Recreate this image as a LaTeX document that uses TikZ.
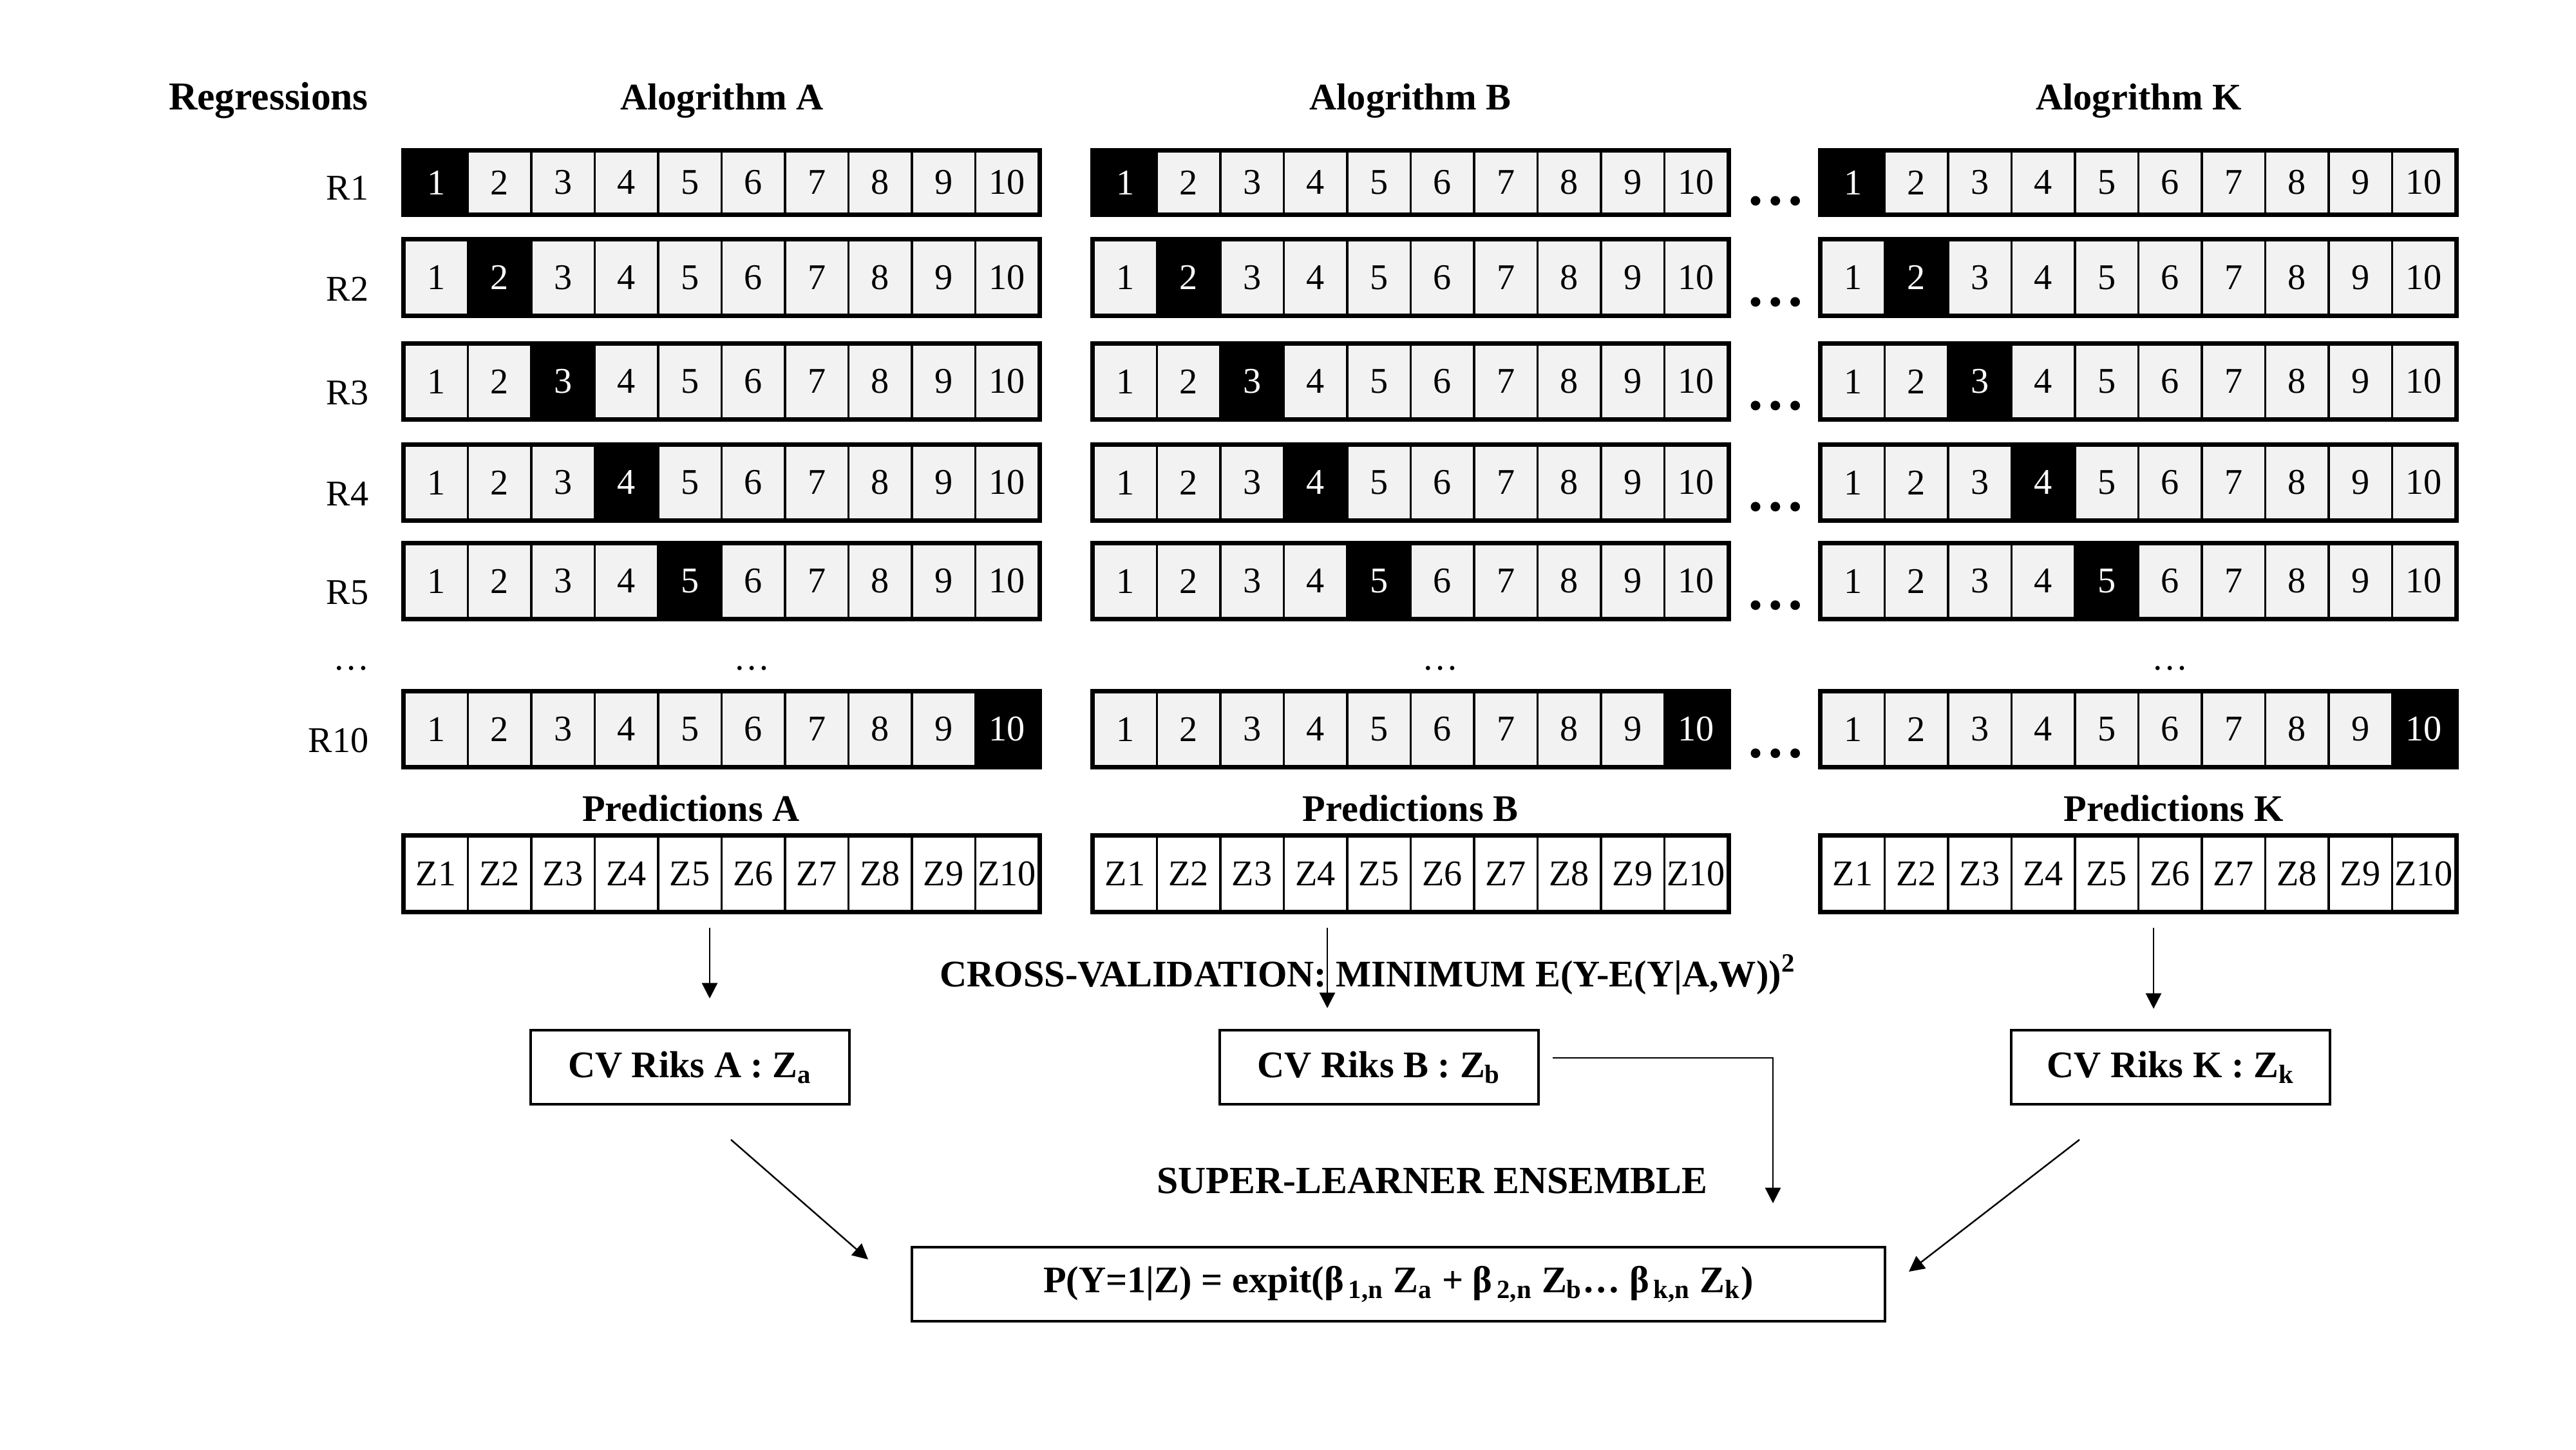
\documentclass[tikz,border=0pt]{standalone}
\usepackage{fontspec}
\setmainfont{Liberation Serif}
\usetikzlibrary{arrows.meta}

\newcommand{\fs}{\fontsize{16}{19}\selectfont}
\newcommand{\bfs}{\fontsize{16.6}{19}\selectfont\bfseries}

\tikzset{
  cell/.style={draw, line width=1.1pt, inner sep=0pt, minimum width=0.985cm, anchor=north west},
  frame/.style={draw, line width=1.5pt},
  title/.style={font=\bfs, anchor=base},
  riskbox/.style={draw, line width=1.3pt, font=\bfs, inner sep=0pt, minimum width=4.95cm, minimum height=1.15cm},
  arr/.style={-{Triangle[length=0.24cm,width=0.24cm]}, line width=0.7pt},
  bigdots/.style={font=\fontsize{26}{30}\selectfont\bfseries, anchor=base, inner sep=0pt},
}

\begin{document}
\begin{tikzpicture}[every node/.style={font=\fs}]
  \useasboundingbox (0,0) rectangle (40,-22.51);

  % headings
  \node[title, font=\fontsize{17.5}{20}\selectfont\bfseries] (regr) at (4.17,-1.70) {Regressions};
  \node[title] (algA) at (11.21,-1.70) {Alogrithm A};
  \node[title] (algB) at (21.90,-1.70) {Alogrithm B};
  \node[title] (algK) at (33.21,-1.70) {Alogrithm K};

  % folds of each algorithm
  \foreach \alg/\xo in {A/6.26,B/16.96,K/28.26}{
    \foreach \rw/\yt/\hh/\hot in {R1/2.33/0.97/1,R2/3.71/1.16/2,R3/5.33/1.15/3,R4/6.90/1.15/4,R5/8.43/1.15/5,R10/10.73/1.15/10}{
      \foreach \i in {1,...,10}{
        \ifnum\i=\hot \def\fc{black}\def\tc{white}\else\def\fc{black!5}\def\tc{black}\fi
        \node[cell, fill=\fc, text=\tc, minimum height=\hh cm] (\alg\rw-\i) at ({\xo+(\i-1)*0.985},-\yt) {\i};
      }
      \draw[frame] (\alg\rw-1.north west) rectangle (\alg\rw-10.south east);
    }
    % predictions
    \foreach \i in {1,...,10}
      \node[cell, fill=white, minimum height=1.16cm] (Z\alg-\i) at ({\xo+(\i-1)*0.985},-12.97) {Z\i};
    \draw[frame] (Z\alg-1.north west) rectangle (Z\alg-10.south east);
  }

  % row labels and dots
  \foreach \rw/\yb in {R1/3.30,R2/4.87,R3/6.48,R4/8.05,R5/9.58,R10/11.88}{
    \node[anchor=base east, inner sep=0pt] (lab\rw) at (5.73,{-\yb+0.20}) {\rw};
    \node[bigdots] (dots\rw) at (27.57,{-\yb+0.12}) {…};
  }
  \node[anchor=base] (labdots) at (5.46,-10.40) {…};
  \node[anchor=base] (middotsA) at (11.68,-10.40) {…};
  \node[anchor=base] (middotsB) at (22.37,-10.40) {…};
  \node[anchor=base] (middotsK) at (33.70,-10.40) {…};

  \node[title] (predA) at (10.73,-12.75) {Predictions A};
  \node[title] (predB) at (21.90,-12.75) {Predictions B};
  \node[title] (predK) at (33.75,-12.75) {Predictions K};

  % cross-validation
  \node[title] (cvtext) at (21.24,-15.32) {CROSS-VALIDATION: MINIMUM E(Y-E(Y|A,W))\textsuperscript{2}};
  \node[riskbox] (cvA) at (10.715,-16.575) {CV Riks A : Z\textsubscript{a}};
  \node[riskbox] (cvB) at (21.415,-16.575) {CV Riks B : Z\textsubscript{b}};
  \node[riskbox] (cvK) at (33.705,-16.575) {CV Riks K : Z\textsubscript{k}};

  \coordinate (downA) at (11.02,-14.41);
  \coordinate (downB) at (20.61,-14.41);
  \coordinate (downK) at (33.44,-14.41);
  \draw[arr, shorten >=0.47cm] (downA) -- (downA |- cvA.north);
  \draw[arr, shorten >=0.32cm] (downB) -- (downB |- cvB.north);
  \draw[arr, shorten >=0.31cm] (downK) -- (downK |- cvK.north);

  % ensemble
  \node[title, font=\fontsize{17}{20}\selectfont\bfseries] (sltext) at (22.24,-18.53) {SUPER-LEARNER ENSEMBLE};
  \node[riskbox, minimum width=15.11cm] (final) at (21.715,-19.945)
    {P(Y=1|Z) = expit(β\textsubscript{\,1,n} Z\textsubscript{a} + β\textsubscript{\,2,n} Z\textsubscript{b}… β\textsubscript{\,k,n} Z\textsubscript{k})};

  \coordinate (fromB) at (24.11,-16.43);
  \coordinate (bend) at (27.53,-16.43);
  \draw[arr, shorten >=0.66cm] (fromB) -- (bend) -- (bend |- final.north);

  \coordinate (fromA) at (11.35,-17.70);
  \coordinate (toA) at (13.48,-19.56);
  \draw[arr] (fromA) -- (toA);
  \coordinate (fromK) at (32.29,-17.70);
  \coordinate (toK) at (29.64,-19.75);
  \draw[arr] (fromK) -- (toK);
\end{tikzpicture}
\end{document}
